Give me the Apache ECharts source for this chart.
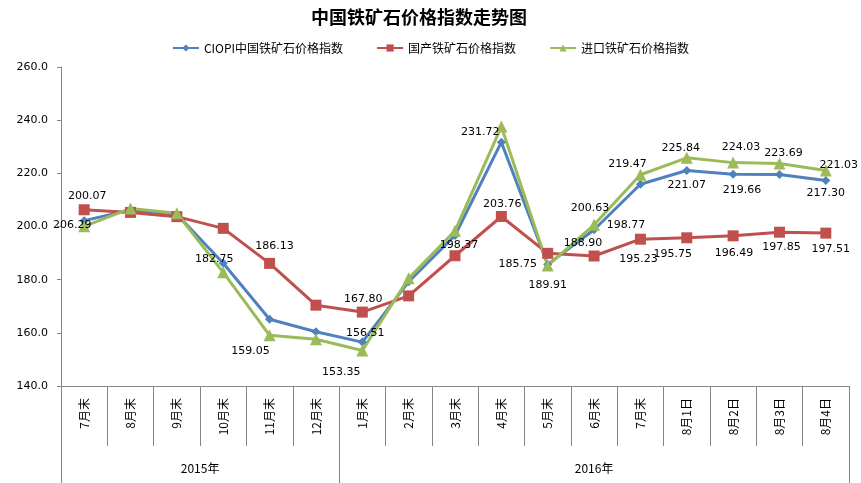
<!DOCTYPE html>
<html lang="zh-CN">

<head>
    <meta charset="UTF-8">
    <title>中国铁矿石价格指数走势图</title>
    <script src="https://cdn.jsdelivr.net/npm/echarts@6/dist/echarts.min.js"></script>
    <style>
        html, body {
            margin: 0;
            background: #fff;
        }
    </style>
</head>

<body>
    <div id="chart" style="width: 861px; height: 483px;"></div>

    <script>
        const categories = ['7月末', '8月末', '9月末', '10月末', '11月末', '12月末', '1月末', '2月末', '3月末',
            '4月末', '5月末', '6月末', '7月末', '8月1日', '8月2日', '8月3日', '8月4日'];
        const years = ['2015年', '2016年'];
        const yearSpans = [6, 11];

        const ciopi = [202.2, 206.2, 204.6, 186.2, 165.1, 160.4, 156.51, 179.2, 196.6,
            231.72, 185.75, 198.77, 215.9, 221.07, 219.66, 219.6, 217.30];
        const domestic = [206.29, 205.3, 203.7, 199.3, 186.13, 170.4, 167.80, 173.9, 189.0,
            203.76, 189.91, 188.90, 195.23, 195.75, 196.49, 197.85, 197.51];
        const imported = [200.07, 206.8, 205.0, 182.75, 159.05, 157.6, 153.35, 180.5, 198.37,
            237.6, 185.3, 200.63, 219.47, 225.84, 224.03, 223.69, 221.03];

        // which points carry a value label
        const ciopiLabeled = [6, 9, 10, 11, 13, 14, 16];
        const domesticLabeled = [0, 4, 6, 9, 10, 11, 12, 13, 14, 15, 16];
        const importedLabeled = [0, 3, 4, 6, 8, 11, 12, 13, 14, 15, 16];

        // label offsets from the point centre (excel style hand placed labels)
        const labelOffsets = {
            ciopi: { 6: [3, -9], 9: [-21, -10], 10: [-30, 0], 11: [32, -5], 13: [0, 15], 14: [9, 16], 16: [0, 13] },
            domestic: { 0: [-12, 15], 4: [5, -17], 6: [1, -13], 9: [1, -12], 10: [0, 32], 11: [-11, -13],
                12: [-2, 20], 13: [-14, 16], 14: [1, 17], 15: [2, 15], 16: [5, 16] },
            imported: { 0: [3, -30], 3: [-9, -13], 4: [-19, 16], 6: [-21, 22], 8: [4, 14], 11: [-4, -17],
                12: [-13, -11], 13: [-6, -10], 14: [8, -15], 15: [4, -10], 16: [13, -5] }
        };

        const axisGray = '#868686';
        const numFont = 'DejaVu Sans';
        const cjkFont = 'Noto Sans CJK SC';

        function buildData(values, labeled, offsets) {
            return values.map((v, i) => {
                if (!labeled.includes(i)) return v;
                return {
                    value: v,
                    label: {
                        show: true,
                        position: 'inside',
                        offset: offsets[i],
                        formatter: p => p.value.toFixed(2),
                        color: '#000',
                        textBorderWidth: 0,
                        fontFamily: numFont,
                        fontSize: 11
                    }
                };
            });
        }

        // year group boundaries and centres on a 0..n value axis
        let bounds = [0];
        let centres = [];
        yearSpans.forEach(s => {
            let start = bounds[bounds.length - 1];
            centres.push(start + s / 2);
            bounds.push(start + s);
        });

        let chart = echarts.init(document.getElementById('chart'));

        let option = {
            animation: false,
            title: {
                text: '中国铁矿石价格指数走势图',
                left: 306,
                top: 3,
                textStyle: {
                    fontFamily: cjkFont,
                    fontSize: 18,
                    fontWeight: 'bold',
                    color: '#000'
                }
            },
            legend: {
                top: 37,
                left: 'center',
                itemWidth: 26,
                itemHeight: 9,
                itemGap: 33,
                textStyle: {
                    fontFamily: cjkFont,
                    fontSize: 12,
                    color: '#000'
                }
            },
            grid: {
                left: 61,
                right: 12,
                top: 67,
                bottom: 97
            },
            xAxis: [
                {
                    type: 'category',
                    data: categories,
                    boundaryGap: true,
                    position: 'bottom',
                    axisLine: { lineStyle: { color: axisGray, width: 1 } },
                    axisTick: {
                        show: true,
                        interval: 0,
                        length: 60,
                        lineStyle: { color: axisGray }
                    },
                    axisLabel: {
                        interval: 0,
                        rotate: 90,
                        margin: 12,
                        fontFamily: cjkFont,
                        fontSize: 12,
                        color: '#000'
                    },
                    splitLine: { show: false }
                },
                {
                    type: 'value',
                    min: 0,
                    max: categories.length,
                    position: 'bottom',
                    axisLine: { show: false },
                    splitLine: { show: false },
                    axisTick: {
                        show: true,
                        customValues: bounds,
                        length: 97,
                        lineStyle: { color: axisGray }
                    },
                    axisLabel: {
                        customValues: centres,
                        formatter: v => years[centres.indexOf(v)] || '',
                        margin: 76,
                        fontFamily: cjkFont,
                        fontSize: 12,
                        color: '#000'
                    }
                }
            ],
            yAxis: {
                type: 'value',
                min: 140,
                max: 260,
                interval: 20,
                axisLine: { show: true, lineStyle: { color: axisGray } },
                axisTick: { show: true, length: 4, lineStyle: { color: axisGray } },
                splitLine: { show: false },
                axisLabel: {
                    formatter: v => v.toFixed(1),
                    margin: 13,
                    fontFamily: numFont,
                    fontSize: 11,
                    color: '#000'
                }
            },
            series: [
                {
                    name: 'CIOPI中国铁矿石价格指数',
                    type: 'line',
                    data: buildData(ciopi, ciopiLabeled, labelOffsets.ciopi),
                    symbol: 'diamond',
                    symbolSize: 9,
                    itemStyle: { color: '#4F81BD' },
                    lineStyle: { width: 3, color: '#4F81BD' }
                },
                {
                    name: '国产铁矿石价格指数',
                    type: 'line',
                    data: buildData(domestic, domesticLabeled, labelOffsets.domestic),
                    symbol: 'rect',
                    symbolSize: 11,
                    itemStyle: { color: '#C0504D' },
                    lineStyle: { width: 3, color: '#C0504D' }
                },
                {
                    name: '进口铁矿石价格指数',
                    type: 'line',
                    data: buildData(imported, importedLabeled, labelOffsets.imported),
                    symbol: 'triangle',
                    symbolSize: 12,
                    itemStyle: { color: '#9BBB59' },
                    lineStyle: { width: 3, color: '#9BBB59' }
                }
            ]
        };

        chart.setOption(option);
    </script>
</body>

</html>
